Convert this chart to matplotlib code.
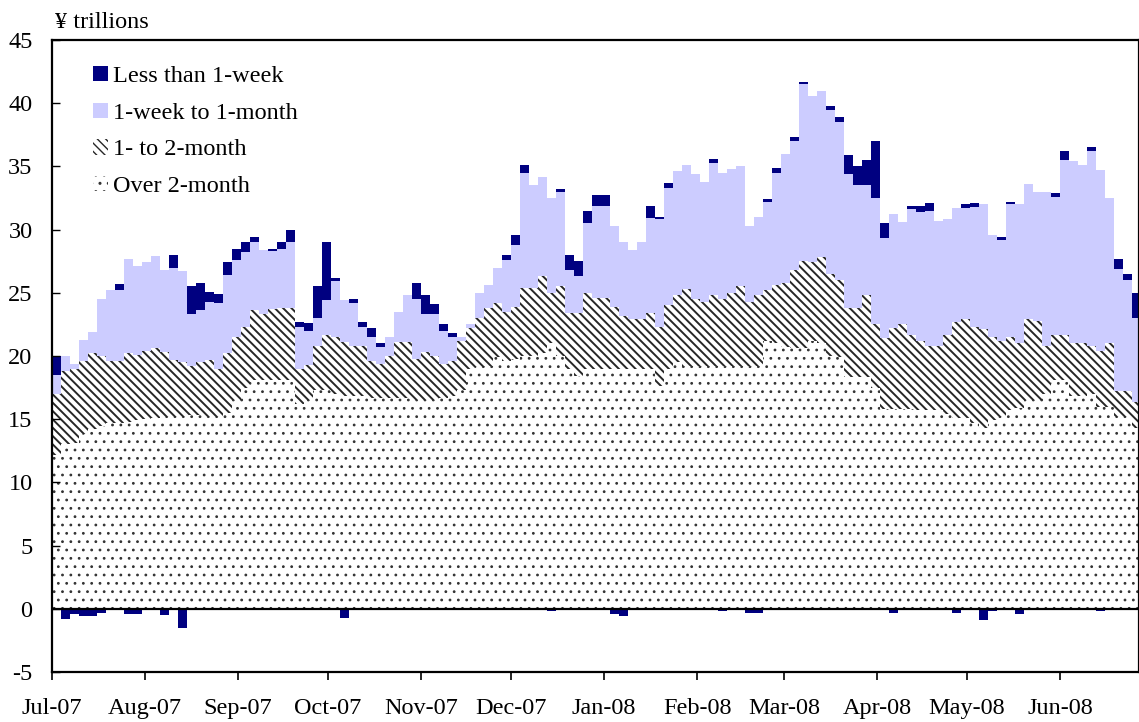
import numpy as np
import pandas as pd
import matplotlib
matplotlib.use("Agg")
import matplotlib.pyplot as plt
from matplotlib.patches import Patch

plt.rcParams['font.family'] = ['Liberation Serif', 'DejaVu Serif']
plt.rcParams['axes.unicode_minus'] = False

# outstanding amounts, ¥ trillions, one value per 3-day step from 1 Jul 2007
start = pd.Timestamp('2007-07-01')

over_2m = [12.2, 13.0, 13.1, 13.8, 14.2, 14.5, 14.7, 14.7, 14.8, 14.9,
           15.0, 15.1, 15.2, 15.2, 15.2, 15.3, 15.3, 15.2, 15.2, 15.5,
           16.5, 17.5, 18.1, 18.1, 18.1, 18.1, 18.1, 16.2, 16.5, 17.3,
           17.3, 17.0, 16.8, 16.8, 16.8, 16.7, 16.7, 16.7, 16.7, 16.7,
           16.5, 16.5, 16.5, 16.7, 16.8, 17.3, 19.0, 19.1, 19.2, 19.9,
           19.6, 19.8, 20.0, 20.0, 20.2, 21.0, 20.0, 19.0, 18.4, 19.0,
           19.0, 19.0, 19.0, 19.0, 19.0, 19.0, 19.0, 17.6, 19.0, 19.5,
           19.2, 19.2, 19.2, 19.2, 19.2, 19.2, 19.2, 19.2, 19.2, 21.2,
           21.0, 20.7, 20.6, 20.6, 21.2, 21.0, 20.0, 19.9, 18.3, 18.3,
           18.3, 17.5, 15.8, 15.8, 15.8, 15.8, 15.7, 15.7, 15.7, 15.4,
           15.1, 15.1, 14.7, 14.3, 14.9, 15.2, 15.7, 15.9, 16.5, 16.5,
           17.0, 18.1, 18.1, 16.8, 16.8, 17.0, 16.0, 16.0, 15.2, 15.2,
           14.3]

one_to_2m = [4.8, 5.8, 5.9, 5.8, 6.0, 5.5, 4.9, 4.9, 5.4, 5.2,
             5.4, 5.5, 5.1, 4.5, 4.3, 3.9, 4.2, 4.5, 3.8, 4.7,
             5.0, 4.8, 5.5, 5.2, 5.6, 5.7, 5.7, 2.8, 2.8, 3.5,
             4.4, 4.5, 4.3, 4.0, 4.0, 2.9, 2.7, 3.3, 4.4, 4.4,
             3.3, 3.8, 3.5, 2.7, 2.8, 3.9, 3.2, 3.9, 4.6, 4.3,
             3.9, 4.1, 5.4, 5.4, 6.1, 4.0, 5.5, 4.4, 5.0, 6.0,
             5.6, 5.6, 4.9, 4.2, 3.9, 3.9, 4.4, 4.7, 5.0, 5.3,
             6.1, 5.3, 5.1, 5.6, 5.3, 5.8, 6.3, 5.1, 5.6, 4.0,
             4.6, 5.1, 6.2, 6.9, 6.2, 6.8, 6.5, 6.1, 5.5, 5.5,
             6.5, 5.0, 5.6, 6.4, 6.7, 5.9, 5.5, 5.1, 5.1, 6.3,
             7.6, 7.8, 7.6, 7.8, 6.6, 6.0, 5.8, 5.1, 6.4, 6.3,
             3.8, 3.6, 3.6, 4.2, 4.2, 3.8, 4.4, 5.0, 2.0, 2.0,
             2.1]

week_to_1m = [1.5, 1.2, 0.4, 1.7, 1.7, 4.5, 5.6, 5.6, 7.5, 7.0,
              7.0, 7.3, 6.5, 7.3, 7.2, 4.1, 4.1, 4.6, 5.2, 6.2,
              6.1, 5.9, 5.4, 5.1, 4.6, 4.7, 5.2, 3.3, 2.7, 2.2,
              2.7, 4.4, 3.3, 3.4, 1.5, 1.9, 1.3, 1.5, 2.4, 3.7,
              4.7, 3.0, 3.3, 2.6, 1.9, 0.3, 0.3, 2.0, 1.8, 2.8,
              4.1, 4.9, 9.1, 8.1, 7.9, 7.5, 7.5, 3.4, 2.9, 5.5,
              7.3, 7.3, 6.4, 5.8, 5.5, 6.1, 7.5, 8.5, 9.3, 9.8,
              9.8, 9.9, 9.5, 10.5, 10.0, 9.8, 9.5, 6.0, 6.2, 7.0,
              8.9, 10.2, 10.2, 14.0, 13.2, 13.2, 13.0, 12.5, 10.6, 9.7,
              8.7, 10.0, 7.9, 9.0, 8.1, 9.9, 10.2, 10.7, 9.9, 9.1,
              9.0, 8.8, 9.5, 9.9, 8.1, 8.0, 10.5, 11.0, 10.7, 10.2,
              12.2, 10.9, 13.8, 14.4, 14.1, 15.4, 14.3, 11.5, 9.7, 8.8,
              6.6]

under_1w = [1.5, -0.8, -0.4, -0.6, -0.6, -0.3, 0.0, 0.5, -0.4, -0.4,
            0.0, 0.0, -0.5, 1.0, -1.5, 2.2, 2.2, 0.8, 0.7, 1.0,
            0.9, 0.8, 0.4, 0.0, 0.2, 0.5, 1.0, 0.4, 0.6, 2.5,
            4.6, 0.3, -0.7, 0.3, 0.4, 0.7, 0.3, 0.0, 0.0, 0.0,
            1.3, 1.5, 0.8, 0.5, 0.3, 0.0, 0.0, 0.0, 0.0, 0.0,
            0.4, 0.8, 0.6, 0.0, 0.0, -0.2, 0.2, 1.2, 1.2, 1.0,
            0.8, 0.8, -0.4, -0.6, 0.0, 0.0, 1.0, 0.2, 0.4, 0.0,
            0.0, 0.0, 0.0, 0.3, -0.2, 0.0, 0.0, -0.3, -0.3, 0.2,
            0.4, 0.0, 0.3, 0.2, 0.0, 0.0, 0.3, 0.4, 1.5, 1.5,
            2.0, 4.5, 1.2, -0.3, 0.0, 0.3, 0.5, 0.6, 0.0, 0.0,
            -0.3, 0.3, 0.3, -0.9, -0.2, 0.2, 0.2, -0.4, 0.0, 0.0,
            0.0, 0.3, 0.7, 0.0, 0.0, 0.3, -0.2, 0.0, 0.8, 0.5,
            2.0]

labels = ['Less than 1-week', '1-week to 1-month', '1- to 2-month', 'Over 2-month']
month_ticks = pd.date_range('2007-07-01', '2008-06-01', freq='MS')

dates = pd.date_range(start, periods=len(over_2m), freq='3D')

a = np.array(over_2m)
b = np.array(one_to_2m)
c = np.array(week_to_1m)
d = np.array(under_1w)

navy = '#000080'
lavender = '#CCCCFF'
dark = '#262626'
stripes = '\\\\\\\\'

fig = plt.figure(figsize=(11.39, 7.22), dpi=100)
ax = fig.add_axes([52 / 1139, 50 / 722, 1087 / 1139, 632 / 722])

w = 3.0
with plt.rc_context({'hatch.linewidth': 0.8}):
    ax.bar(dates, a, width=w, align='edge', color='white', edgecolor='#333333',
           hatch='..', linewidth=0)
    dots_patch = Patch(facecolor='white', edgecolor='#333333', hatch='..', linewidth=0)
with plt.rc_context({'hatch.linewidth': 1.4}):
    ax.bar(dates, b, width=w, align='edge', bottom=a, color='white',
           edgecolor=dark, hatch=stripes, linewidth=0)
    stripe_patch = Patch(facecolor='white', edgecolor=dark, hatch=stripes, linewidth=0)
ax.bar(dates, c, width=w, align='edge', bottom=a + b, color=lavender,
       linewidth=0)
navy_bottom = np.where(d > 0, a + b + c, 0)
ax.bar(dates, d, width=w, align='edge', bottom=navy_bottom, color=navy,
       linewidth=0)

ax.axhline(0, color='black', linewidth=1.6)

ax.set_ylim(-5, 45)
ax.set_yticks(range(-5, 46, 5))
ax.set_xlim(start, start + pd.Timedelta(days=362.3))
ax.set_xticks(month_ticks)
ax.set_xticklabels([m.strftime('%b-%y') for m in month_ticks])

ax.tick_params(axis='y', direction='in', length=6, width=1, labelsize=17.5, pad=14)
ax.tick_params(axis='x', direction='out', length=6, width=1.2, labelsize=17.5, pad=13)
for s in ax.spines.values():
    s.set_linewidth(1.6)

handles = [Patch(facecolor=navy, edgecolor='none'),
           Patch(facecolor=lavender, edgecolor='none'),
           stripe_patch, dots_patch]
ax.legend(handles, labels, loc='upper left', bbox_to_anchor=(0.038, 0.959),
          frameon=False, fontsize=17.5, handlelength=0.6, handleheight=0.6,
          handletextpad=0.22, labelspacing=0.63, borderpad=0, borderaxespad=0)

fig.text(55 / 1139, 1 - 22 / 722, '¥ trillions', fontsize=17.5, va='center', ha='left')

fig.savefig('out.png', dpi=100)
